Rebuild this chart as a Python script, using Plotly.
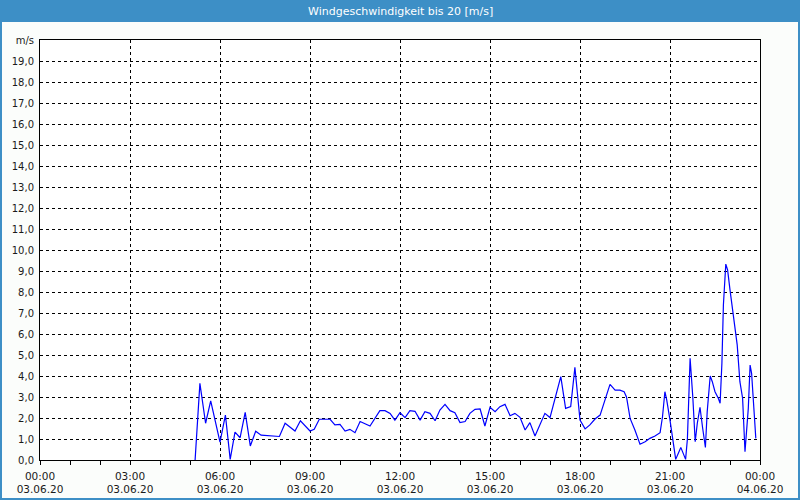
import pandas as pd
import plotly.graph_objects as go

# ---- data ----
hours = [5.17, 5.33, 5.52, 5.69, 6.0, 6.18, 6.34, 6.5, 6.67, 6.84, 7.01, 7.19, 7.37, 7.6, 7.98,
         8.17, 8.5, 8.68, 9.0, 9.14, 9.31, 9.67, 9.83, 10.0, 10.17, 10.33, 10.5, 10.67, 11.0,
         11.33, 11.5, 11.67, 11.83, 12.0, 12.17, 12.33, 12.5, 12.67, 12.83, 13.0, 13.17, 13.33,
         13.5, 13.67, 13.83, 14.0, 14.17, 14.33, 14.5, 14.67, 14.83, 15.0, 15.17, 15.33, 15.5,
         15.67, 15.83, 16.0, 16.17, 16.33, 16.5, 16.83, 17.0, 17.36, 17.52, 17.69, 17.83, 18.0,
         18.17, 18.33, 18.5, 18.67, 18.83, 19.0, 19.17, 19.33, 19.47, 19.55, 19.67, 19.83, 20.0,
         20.17, 20.33, 20.5, 20.67, 20.75, 20.83, 20.89, 21.0, 21.09, 21.19, 21.36, 21.52, 21.58,
         21.67, 21.76, 21.84, 21.91, 22.0, 22.09, 22.18, 22.24, 22.34, 22.41, 22.5, 22.61, 22.67,
         22.73, 22.78, 22.86, 22.92, 23.0, 23.17, 23.24, 23.33, 23.42, 23.5, 23.61, 23.67, 23.72,
         23.81, 23.86]
speed = [0.0, 3.65, 1.75, 2.82, 0.85, 2.14, 0.03, 1.33, 1.06, 2.27, 0.67, 1.37, 1.18, 1.15, 1.12,
         1.75, 1.38, 1.87, 1.38, 1.46, 1.94, 1.94, 1.67, 1.7, 1.38, 1.46, 1.3, 1.83, 1.62,
         2.35, 2.35, 2.22, 1.9, 2.25, 2.02, 2.35, 2.32, 1.9, 2.3, 2.22, 1.87, 2.38,
         2.65, 2.35, 2.25, 1.78, 1.83, 2.22, 2.41, 2.43, 1.62, 2.51, 2.3, 2.54, 2.65,
         2.11, 2.22, 2.03, 1.43, 1.78, 1.14, 2.22, 2.02, 3.97, 2.46, 2.54, 4.41, 1.9,
         1.48, 1.67, 1.95, 2.14, 2.86, 3.6, 3.33, 3.33, 3.25, 3.0, 1.98, 1.43, 0.75,
         0.87, 1.03, 1.14, 1.3, 2.06, 3.25, 2.86, 1.9, 0.95, 0.03, 0.6, 0.03, 1.0,
         4.84, 3.0, 0.87, 1.75, 2.51, 1.5, 0.6, 2.3, 4.0, 3.73, 3.25, 2.94, 2.7,
         4.6, 7.38, 9.33, 9.05, 8.1, 6.35, 5.48, 3.73, 2.94, 0.4, 2.46, 4.52, 4.13,
         2.14, 1.03]

x_tick_hours = [0, 3, 6, 9, 12, 15, 18, 21, 24]
x_tick_text = ["00:00<br>03.06.20", "03:00<br>03.06.20", "06:00<br>03.06.20", "09:00<br>03.06.20",
               "12:00<br>03.06.20", "15:00<br>03.06.20", "18:00<br>03.06.20", "21:00<br>03.06.20",
               "00:00<br>04.06.20"]
y_tick_vals = list(range(0, 21))
y_tick_text = [f"{v},0" for v in range(0, 20)] + ["m/s"]
title_text = "Windgeschwindigkeit bis 20 [m/s]"

base = pd.Timestamp("2020-06-03 00:00")
times = [base + pd.Timedelta(hours=h) for h in hours]
tickvals = [base + pd.Timedelta(hours=h) for h in x_tick_hours]
minorvals = [base + pd.Timedelta(hours=h) for h in range(0, 25)]

W, H = 800, 500
L, R, T, B = 40, 40, 40, 40
pw, ph = W - L - R, H - T - B

def px(x):
    return (x - L) / pw

def py(y):
    return (H - B - y) / ph

bar_color = "#3D8FC6"

fig = go.Figure()
fig.add_trace(go.Scatter(x=times, y=speed, mode="lines",
                         line=dict(color="#0000FF", width=1.2), hoverinfo="skip"))

fig.update_layout(
    width=W, height=H,
    margin=dict(l=L, r=R, t=T, b=B, autoexpand=False),
    paper_bgcolor="#FBFDFB",
    plot_bgcolor="#FFFFFF",
    showlegend=False,
    font=dict(family="DejaVu Sans", size=10, color="#1a1a1a"),
    xaxis=dict(
        type="date", automargin=False,
        range=[base, base + pd.Timedelta(hours=24)],
        tickmode="array", tickvals=tickvals, ticktext=x_tick_text,
        ticks="outside", ticklen=4, tickcolor="#000000",
        showgrid=True, gridcolor="#000000", griddash="3px,3px", gridwidth=1,
        showline=True, linecolor="#000000", linewidth=1, mirror=True,
        zeroline=False, ticklabelstandoff=2,
        minor=dict(tickmode="array", tickvals=minorvals, ticks="outside", ticklen=4,
                   tickcolor="#000000", showgrid=False),
        tickfont=dict(family="DejaVu Sans", size=10.5, color="#1a1a1a"),
        fixedrange=True,
    ),
    yaxis=dict(
        range=[0, 20], automargin=False,
        tickmode="array", tickvals=y_tick_vals, ticktext=y_tick_text,
        ticks="", showgrid=True, gridcolor="#000000", griddash="3px,3px", gridwidth=1,
        showline=True, linecolor="#000000", linewidth=1, mirror=True,
        zeroline=False, ticklabelstandoff=3,
        tickfont=dict(family="DejaVu Sans", size=10, color="#1a1a1a"),
        fixedrange=True,
    ),
    shapes=[
        dict(type="rect", xref="paper", yref="paper",
             x0=px(0), x1=px(W), y0=py(0), y1=py(22),
             fillcolor=bar_color, line=dict(width=0), layer="below"),
        dict(type="rect", xref="paper", yref="paper",
             x0=px(1), x1=px(W - 1), y0=py(1), y1=py(H - 1),
             fillcolor="rgba(0,0,0,0)", line=dict(color=bar_color, width=2)),
    ],
    annotations=[
        dict(text=title_text, xref="paper", yref="paper", x=0.5, y=py(11),
             xanchor="center", yanchor="middle", showarrow=False,
             font=dict(family="DejaVu Sans", size=11, color="#FFFFFF")),
    ],
)

fig.write_html("out.html")
